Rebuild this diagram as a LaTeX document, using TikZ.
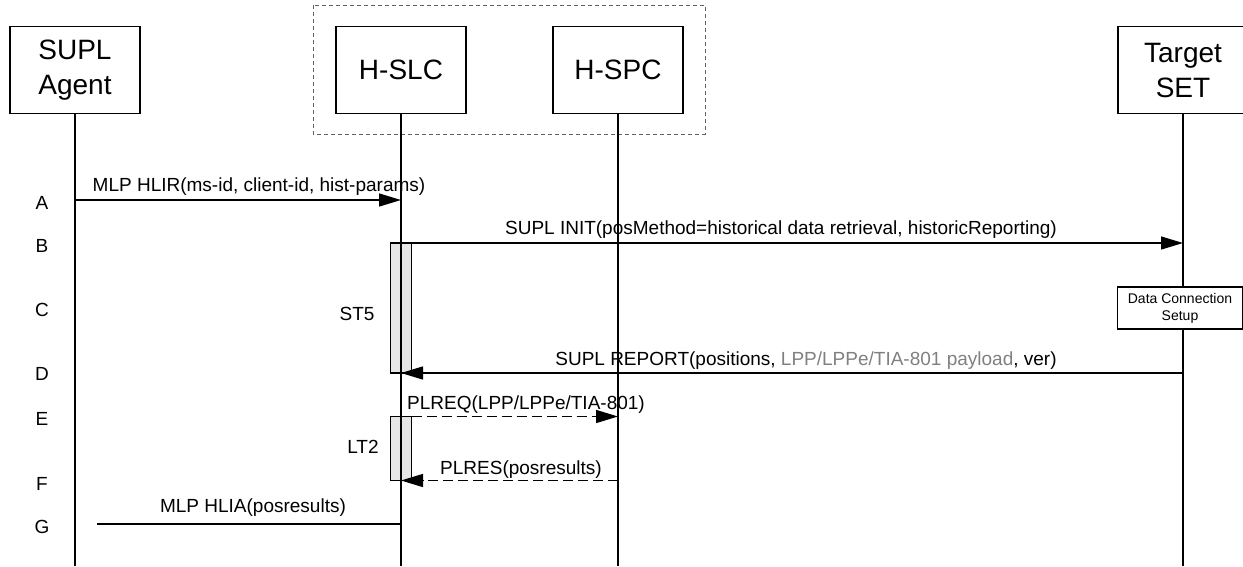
\documentclass[tikz,border=0pt]{standalone}
\usepackage{fontspec}
\setmainfont{Liberation Sans}
\usepackage{tikz}
\usetikzlibrary{arrows.meta}
\definecolor{actgray}{HTML}{E6E6E6}
\definecolor{grpgray}{HTML}{606060}
\definecolor{paygray}{HTML}{808080}
\tikzset{
  ent/.style={draw,line width=1.4pt,minimum width=130pt,minimum height=87pt,align=center,font=\fontsize{28}{35}\selectfont,inner sep=0pt},
  grp/.style={draw=grpgray,line width=1pt,dash pattern=on 4pt off 3pt},
  life/.style={line width=1.4pt},
  act/.style={draw,fill=actgray,line width=1.4pt},
  msg/.style={font=\fontsize{19}{23}\selectfont,inner sep=0pt},
  dcs/.style={draw,fill=white,line width=1.4pt,minimum width=125pt,minimum height=42pt,align=center,font=\fontsize{14}{17}\selectfont,inner sep=0pt},
  arr/.style={-{Triangle[length=22pt,width=13pt]},line width=1.4pt},
  darr/.style={arr,dash pattern=on 10pt off 5pt},
  msgline/.style={line width=1.4pt},
}
\begin{document}
\begin{tikzpicture}[x=1pt,y=-1pt]
\useasboundingbox (0,0) rectangle (1243,566);
% home network
\draw[grp] (313,5) rectangle (705,134);
\node[ent] (agent) at (75,70) {SUPL\\Agent};
\node[ent] (hslc) at (401,70) {H-SLC};
\node[ent] (hspc) at (618,70) {H-SPC};
\node[ent] (tset) at (1183,70) {Target\\SET};
\coordinate (agentend) at (75,566);
\coordinate (hslcend) at (401,566);
\coordinate (hspcend) at (618,566);
\coordinate (tsetend) at (1183,566);
% timers
\draw[act] (390.5,243) rectangle (411.5,373);
\draw[act] (390.5,416.5) rectangle (411.5,480.5);
\node[msg] (st5) at (357,314) {ST5};
\node[msg] (lt2) at (363,447) {LT2};
% lifelines
\draw[life] (agent) -- (agentend);
\draw[life] (hslc) -- (hslcend);
\draw[life] (hspc) -- (hspcend);
\draw[life] (tset) -- (tsetend);
\node[dcs] (dcs) at (1180,308) {Data Connection\\Setup};
% steps
\foreach \l/\y in {A/203,B/246,C/310,D/374,E/419,F/484,G/527}
  \node[msg] (lt\l) at (42,\y) {\l};
\coordinate (a1) at (75,200);
\coordinate (a2) at (401,200);
\coordinate (b1) at (401,243);
\coordinate (b2) at (1183,243);
\coordinate (d1) at (1183,373);
\coordinate (d2) at (401,373);
\coordinate (e1) at (411.5,416.5);
\coordinate (e2) at (618,416.5);
\coordinate (f1) at (618,480.5);
\coordinate (f2) at (401,480.5);
\coordinate (g1) at (97,524);
\coordinate (g2) at (401,524);
\draw[arr] (a1) -- (a2);
\node[msg] (la) at (259,187) {MLP HLIR(ms-id, client-id, hist-params)};
\draw[arr] (b1) -- (b2);
\node[msg] (lb) at (781,230) {SUPL INIT(posMethod=historical data retrieval, historicReporting)};
\draw[arr] (d1) -- (d2);
\node[msg] (ld) at (806,361) {SUPL REPORT(positions, \textcolor{paygray}{LPP/LPPe/TIA-801 payload}, ver)};
\draw[darr] (e1) -- (e2);
\node[msg] (le) at (526,405) {PLREQ(LPP/LPPe/TIA-801)};
\draw[darr] (f1) -- (f2);
\node[msg] (lf) at (521,470) {PLRES(posresults)};
\draw[msgline] (g1) -- (g2);
\node[msg] (lg) at (253,508) {MLP HLIA(posresults)};
\end{tikzpicture}
\end{document}
